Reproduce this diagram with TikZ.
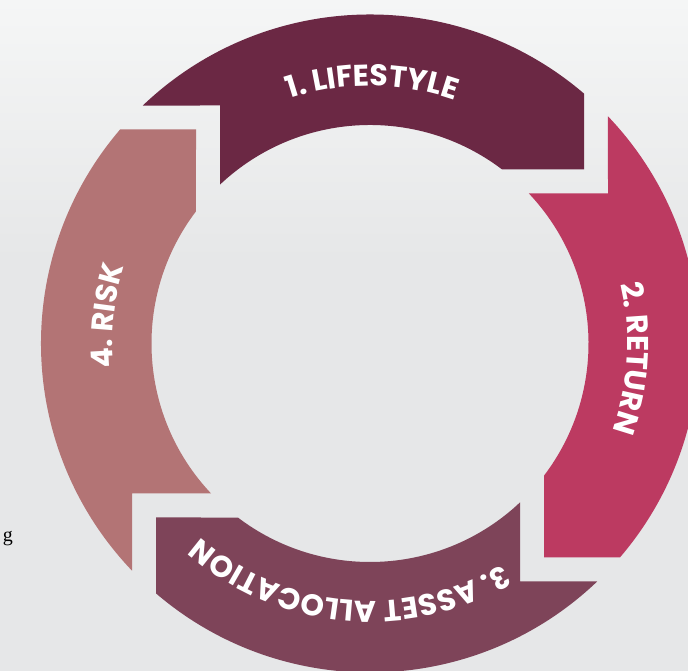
\documentclass[tikz,border=0pt]{standalone}
\usepackage{fontspec}
\newfontfamily\labelfont{Poppins}
\newfontfamily\seriffont{Liberation Serif}
\usetikzlibrary{decorations.text}
\definecolor{seglife}{HTML}{6B2844}
\definecolor{segreturn}{HTML}{BC3A61}
\definecolor{segasset}{HTML}{7E4459}
\definecolor{segrisk}{HTML}{B37475}
\definecolor{bgtop}{HTML}{F5F6F6}
\definecolor{bgbot}{HTML}{E6E7E8}
\begin{document}
\begin{tikzpicture}[x=1pt,y=1pt,
  lbl/.style={decorate, decoration={text along path, text align=center,
     text color=white,
     text={|\labelfont\bfseries\fontsize{30}{30}\selectfont|#1}}}]
\useasboundingbox (0,0) rectangle (688,671);
\fill[bgbot] (0,0) rectangle (688,671);
\shade[top color=bgtop, bottom color=bgbot] (0,411) rectangle (688,671);
\coordinate (C) at (370,327.5);
\foreach \rot/\col in {0/seglife,-90/segreturn,-180/segasset,-270/segrisk}{
  \begin{scope}[shift={(C)}, rotate=\rot]
    \fill[\col] (133.67:329pt) -- (-150pt,238pt) -- (-150pt,158.9pt)
      arc[start angle=133.35, end angle=52.78, radius=218.5pt]
      -- (214pt,174pt) -- (214pt,249.9pt)
      arc[start angle=49.42, end angle=133.67, radius=329pt] -- cycle;
  \end{scope}
}
\path[lbl={1. LIFESTYLE}] ([shift={(149.5:257.5pt)}]C) arc[start angle=149.5, end angle=29.5, radius=257.5pt];
\path[lbl={2. RETURN}] ([shift={(56.8:257.5pt)}]C) arc[start angle=56.8, end angle=-63.2, radius=257.5pt];
\path[lbl={3. ASSET ALLOCATION}] ([shift={(-35.1:257.5pt)}]C) arc[start angle=-35.1, end angle=-155.1, radius=257.5pt];
\path[lbl={4. RISK}] ([shift={(234:257.5pt)}]C) arc[start angle=234, end angle=114, radius=257.5pt];
\node[anchor=base east, inner sep=0pt, font=\seriffont\fontsize{20}{20}\selectfont] (g) at (13,129) {g};
\end{tikzpicture}
\end{document}
